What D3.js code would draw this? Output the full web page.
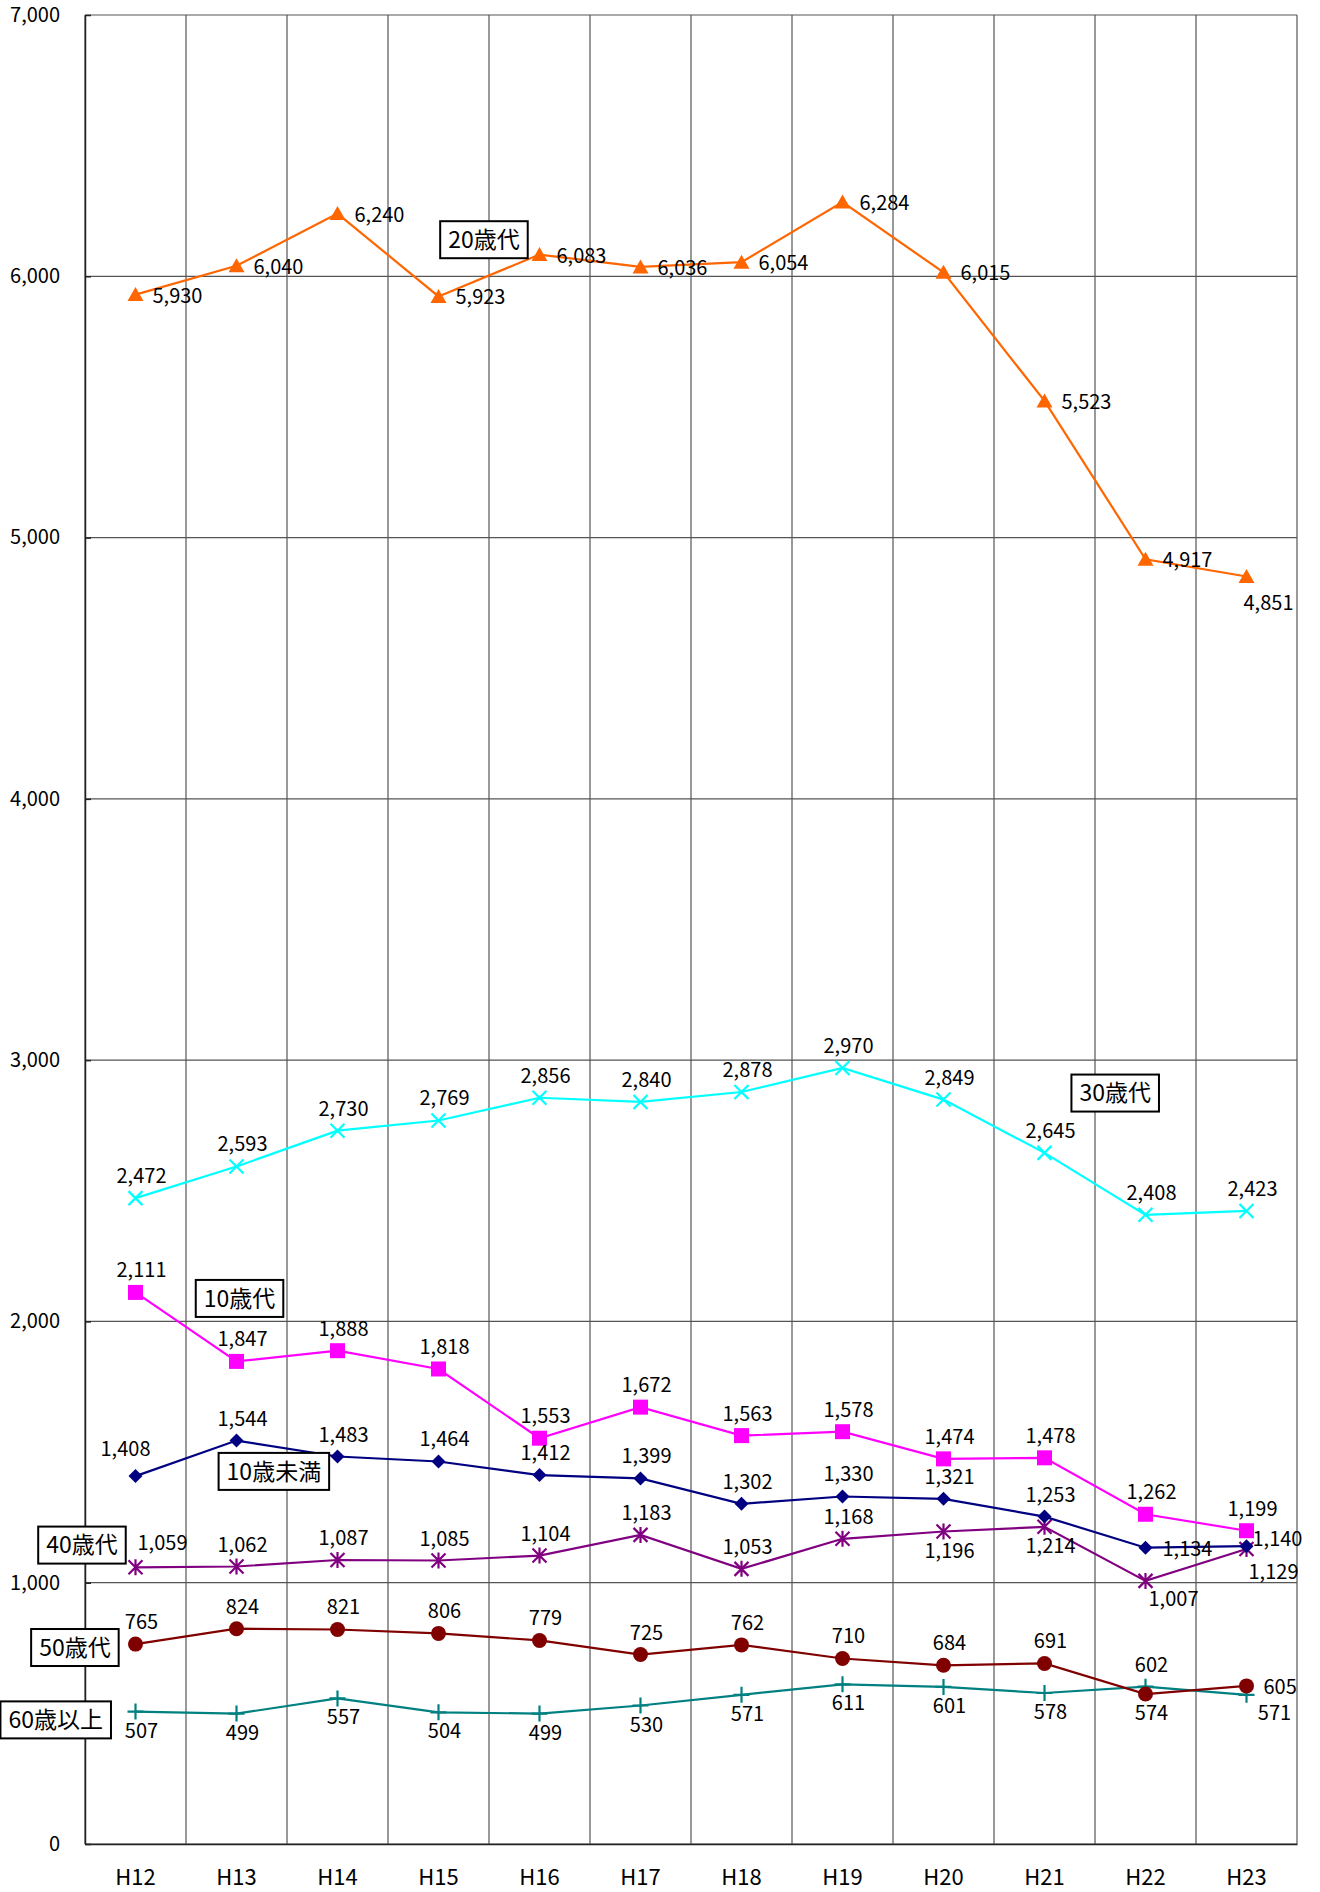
<!DOCTYPE html>
<meta charset="utf-8">
<head>
  <title>年齢別</title>
  <style>
    body { margin: 0; background: #fff; }
    text { font-family: "Noto Sans CJK JP", "Noto Sans", sans-serif; fill: #000; }
  </style>
</head>
<body>
  <script src="https://d3js.org/d3.v7.min.js"></script>
  <div id="chart"></div>

  <script>
    // ---- data ----
    var years = ["H12", "H13", "H14", "H15", "H16", "H17", "H18", "H19", "H20", "H21", "H22", "H23"];
    var yTicks = [0, 1000, 2000, 3000, 4000, 5000, 6000, 7000];

    var under10 = [1408, 1544, 1483, 1464, 1412, 1399, 1302, 1330, 1321, 1253, 1134, 1140];
    var age10s  = [2111, 1847, 1888, 1818, 1553, 1672, 1563, 1578, 1474, 1478, 1262, 1199];
    var age20s  = [5930, 6040, 6240, 5923, 6083, 6036, 6054, 6284, 6015, 5523, 4917, 4851];
    var age30s  = [2472, 2593, 2730, 2769, 2856, 2840, 2878, 2970, 2849, 2645, 2408, 2423];
    var age40s  = [1059, 1062, 1087, 1085, 1104, 1183, 1053, 1168, 1196, 1214, 1007, 1129];
    var age50s  = [765, 824, 821, 806, 779, 725, 762, 710, 684, 691, 574, 605];
    var age60up = [507, 499, 557, 504, 499, 530, 571, 611, 601, 578, 602, 571];

    // ---- layout ----
    var W = 1320, H = 1892;
    var plot = {left: 85, right: 1297, top: 15, bottom: 1844};

    var svg = d3.select("#chart").append("svg")
      .attr("width", W).attr("height", H);

    var x = d3.scaleBand().domain(years).range([plot.left, plot.right]).padding(0);
    var y = d3.scaleLinear().domain([0, 7000]).range([plot.bottom, plot.top]);
    var cx = function(i) { return x(years[i]) + x.bandwidth() / 2; };

    // grid
    var grid = svg.append("g");
    grid.selectAll(".hg").data(yTicks).enter().append("line")
      .attr("x1", plot.left).attr("x2", plot.right)
      .attr("y1", function(d) { return y(d); }).attr("y2", function(d) { return y(d); })
      .attr("stroke", "#555").attr("stroke-width", 1.2);
    grid.selectAll(".vg").data(years).enter().append("line")
      .attr("x1", function(d) { return x(d); }).attr("x2", function(d) { return x(d); })
      .attr("y1", plot.top).attr("y2", plot.bottom)
      .attr("stroke", "#555").attr("stroke-width", 1.2);
    grid.append("line")
      .attr("x1", plot.right).attr("x2", plot.right)
      .attr("y1", plot.top).attr("y2", plot.bottom)
      .attr("stroke", "#555").attr("stroke-width", 1.2);

    // axes
    var yAxis = svg.append("g")
      .attr("transform", "translate(" + plot.left + ",0)")
      .call(d3.axisLeft(y).tickValues(yTicks).tickFormat(d3.format(",")).tickSizeInner(-6).tickSizeOuter(0).tickPadding(25));
    yAxis.select(".domain").attr("stroke", "#222").attr("stroke-width", 1.5);
    yAxis.selectAll(".tick line").attr("stroke", "#222").attr("stroke-width", 1.5);
    yAxis.selectAll("text").style("font-size", "20px").attr("fill", "#000");

    var xAxis = svg.append("g")
      .attr("transform", "translate(0," + plot.bottom + ")")
      .call(d3.axisBottom(x).tickSize(0).tickPadding(25));
    xAxis.select(".domain").attr("stroke", "#222").attr("stroke-width", 1.5);
    xAxis.selectAll("text").style("font-size", "22px").attr("fill", "#000");

    // marker shapes
    var shapes = {
      diamond: "M0,-7L7,0L0,7L-7,0Z",
      square: "M-7.5,-7.5H7.5V7.5H-7.5Z",
      triangle: "M0,-7.5L8,6.5H-8Z",
      cross: "M-7,-7L7,7M-7,7L7,-7",
      star: "M-7,-7L7,7M-7,7L7,-7M0,-8V8",
      circle: "M7.5,0A7.5,7.5 0 1,1 -7.5,0A7.5,7.5 0 1,1 7.5,0Z",
      plus: "M-8,0H8M0,-8V8"
    };

    // label placements: a=above, b=below, r=right, others special
    var place = {
      a:  {dx: 6,  dy: -22, anchor: "middle"},
      b:  {dx: 6,  dy: 19,  anchor: "middle"},
      r:  {dx: 17, dy: 1,   anchor: "start"},
      rn: {dx: 6,  dy: -7,  anchor: "start"},
      al: {dx: -10, dy: -27, anchor: "middle"},
      ar: {dx: 27, dy: -24, anchor: "middle"},
      br: {dx: 28, dy: 18,  anchor: "middle"},
      bl: {dx: 27, dy: 23,  anchor: "middle"},
      bo: {dx: 22, dy: 26,  anchor: "middle"}
    };

    var series = [
      {name: "60歳以上", values: age60up, color: "#008080", shape: "plus", filled: false,
       labels: ["b","b","b","b","b","b","b","b","b","b","a","br"]},
      {name: "50歳代", values: age50s, color: "#800000", shape: "circle", filled: true,
       labels: ["a","a","a","a","a","a","a","a","a","a","b","r"]},
      {name: "40歳代", values: age40s, color: "#800080", shape: "star", filled: false,
       labels: ["ar","a","a","a","a","a","a","a","b","b","br","bl"]},
      {name: "10歳未満", values: under10, color: "#000080", shape: "diamond", filled: true,
       labels: ["al","a","a","a","a","a","a","a","a","a","r","rn"]},
      {name: "10歳代", values: age10s, color: "#FF00FF", shape: "square", filled: true,
       labels: ["a","a","a","a","a","a","a","a","a","a","a","a"]},
      {name: "30歳代", values: age30s, color: "#00FFFF", shape: "cross", filled: false,
       labels: ["a","a","a","a","a","a","a","a","a","a","a","a"]},
      {name: "20歳代", values: age20s, color: "#FF6600", shape: "triangle", filled: true,
       labels: ["r","r","r","r","r","r","r","r","r","r","r","bo"]}
    ];

    var line = d3.line()
      .x(function(d, i) { return cx(i); })
      .y(function(d) { return y(d); });

    series.forEach(function(s) {
      var g = svg.append("g");
      g.append("path")
        .attr("d", line(s.values))
        .attr("fill", "none")
        .attr("stroke", s.color)
        .attr("stroke-width", 2.2);
      g.selectAll(".m").data(s.values).enter().append("path")
        .attr("transform", function(d, i) { return "translate(" + cx(i) + "," + y(d) + ")"; })
        .attr("d", shapes[s.shape])
        .attr("fill", s.filled ? s.color : "none")
        .attr("stroke", s.color)
        .attr("stroke-width", s.filled ? 0 : 2.2);
    });

    // data labels on top
    series.forEach(function(s) {
      svg.append("g").selectAll("text").data(s.values).enter().append("text")
        .attr("x", function(d, i) { return cx(i) + place[s.labels[i]].dx; })
        .attr("y", function(d, i) { return y(d) + place[s.labels[i]].dy; })
        .attr("dy", "0.35em")
        .attr("text-anchor", function(d, i) { return place[s.labels[i]].anchor; })
        .style("font-size", "20px")
        .text(function(d) { return d3.format(",")(d); });
    });

    // series name boxes (x in category units, y in data units)
    var boxes = [
      {name: "20歳代", at: [3.45, 6140]},
      {name: "30歳代", at: [9.70, 2874]},
      {name: "10歳代", at: [1.03, 2088]},
      {name: "10歳未満", at: [1.37, 1426]},
      {name: "40歳代", at: [-0.53, 1144]},
      {name: "50歳代", at: [-0.60, 752]},
      {name: "60歳以上", at: [-0.79, 475]}
    ];
    boxes.forEach(function(b) {
      var px = plot.left + x.bandwidth() * (b.at[0] + 0.5);
      var py = y(b.at[1]);
      var g = svg.append("g").attr("transform", "translate(" + px + "," + py + ")");
      var rect = g.append("rect").attr("fill", "#fff").attr("stroke", "#000").attr("stroke-width", 2);
      var t = g.append("text")
        .attr("text-anchor", "middle").attr("dy", "0.36em")
        .style("font-size", "23px")
        .text(b.name);
      var bb = t.node().getBBox();
      rect.attr("x", -bb.width / 2 - 8).attr("y", -18.5)
        .attr("width", bb.width + 16).attr("height", 37);
    });
  </script>
</body>
